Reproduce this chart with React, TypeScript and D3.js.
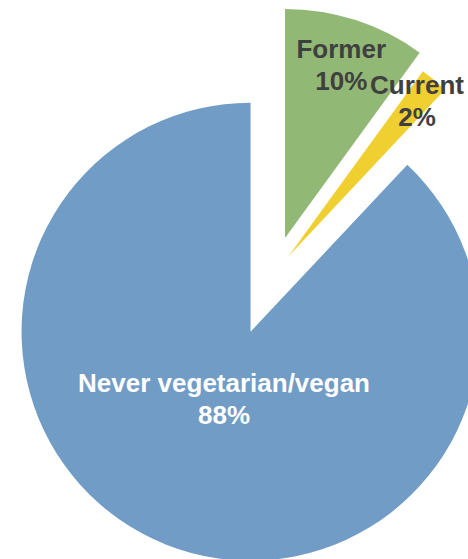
import { useEffect, useRef } from 'react';
import * as d3 from 'd3';

// slices, clockwise from 12 o'clock
const categories = ['Former', 'Current', 'Never vegetarian/vegan'];
const shares = [10, 2, 88];
const colors = ['#92b876', '#f0d030', '#719cc5'];
const textColors = ['#404040', '#404040', '#ffffff'];

// how far each slice is pulled out, and where its label sits (px from the slice apex)
const explode = [39, 24, 61];
const labelRadius = [182, 202, 72];

const WIDTH = 468;
const HEIGHT = 559;
const CX = 273;
const CY = 275;
const RADIUS = 229;
const FONT_SIZE = 26;
const LINE_GAP = 32;
const CAP = FONT_SIZE * 0.716;

export default function App() {
  const svgRef = useRef<SVGSVGElement>(null);

  useEffect(() => {
    if (!svgRef.current) return;

    const svg = d3.select(svgRef.current);
    svg.selectAll('*').remove();

    const data = categories.map((name, i) => ({ name, value: shares[i], i }));

    const pie = d3.pie<{ name: string; value: number; i: number }>()
      .sort(null)
      .value((d) => d.value)
      .startAngle(0)
      .endAngle(2 * Math.PI);

    const arc = d3.arc<d3.PieArcDatum<{ name: string; value: number; i: number }>>()
      .innerRadius(0)
      .outerRadius(RADIUS);

    const arcs = pie(data);

    const g = svg.append('g').attr('transform', `translate(${CX}, ${CY})`);

    const slice = g.selectAll('g.slice')
      .data(arcs)
      .enter()
      .append('g')
      .attr('class', 'slice')
      .attr('transform', (d) => {
        const mid = (d.startAngle + d.endAngle) / 2;
        const off = explode[d.data.i];
        return `translate(${off * Math.sin(mid)}, ${-off * Math.cos(mid)})`;
      });

    slice.append('path')
      .attr('d', (d) => arc(d) as string)
      .attr('fill', (d) => colors[d.data.i]);

    // Labels: name on the first line, percentage on the second
    slice.each(function (d) {
      const mid = (d.startAngle + d.endAngle) / 2;
      const r = labelRadius[d.data.i];
      const lx = r * Math.sin(mid);
      const ly = -r * Math.cos(mid);
      const t = d3.select(this).append('text')
        .attr('text-anchor', 'middle')
        .style('font-family', '"Liberation Sans", Arial, Helvetica, sans-serif')
        .style('font-size', `${FONT_SIZE}px`)
        .style('font-weight', '700')
        .style('fill', textColors[d.data.i]);

      t.append('tspan')
        .attr('x', lx)
        .attr('y', ly + (CAP - LINE_GAP) / 2)
        .text(d.data.name);

      t.append('tspan')
        .attr('x', lx)
        .attr('y', ly + (CAP + LINE_GAP) / 2)
        .text(`${d.data.value}%`);
    });
  }, []);

  return (
    <svg
      ref={svgRef}
      width={WIDTH}
      height={HEIGHT}
      style={{ position: 'absolute', left: 0, top: 0, display: 'block', background: '#ffffff' }}
    />
  );
}
